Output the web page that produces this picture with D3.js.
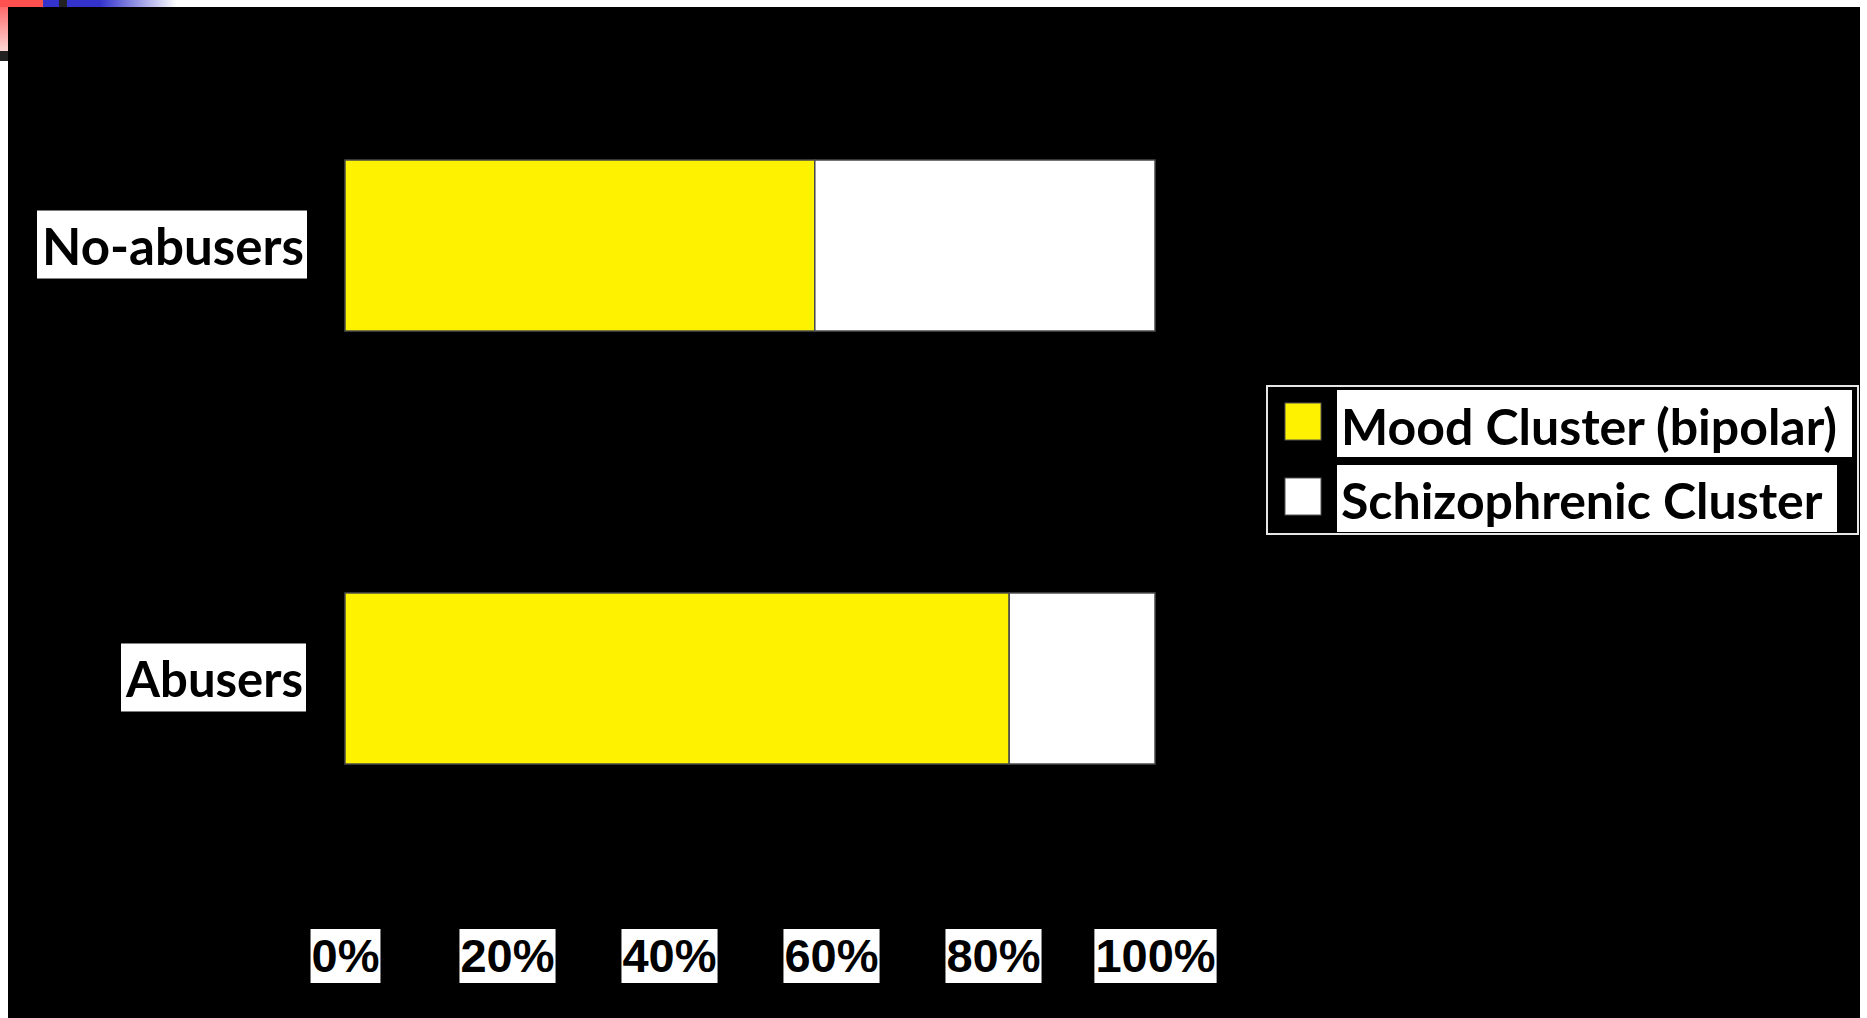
<!DOCTYPE html>
<html>
<head>
<meta charset="utf-8">
<script src="https://cdn.jsdelivr.net/npm/d3@7"></script>
<style>
  html, body { margin: 0; padding: 0; background: #fff; }
  svg { display: block; }
</style>
</head>
<body>
<svg id="chart" width="1867" height="1018"></svg>
<script>
// Categories and the share of each diagnostic cluster (percent)
const categories = ["No-abusers", "Abusers"];
const moodCluster = [58, 82];
const schizoCluster = [42, 18];
const seriesNames = ["Mood Cluster (bipolar)", "Schizophrenic Cluster"];
const seriesColors = ["#FFF200", "#FFFFFF"];
const tickValues = [0, 20, 40, 60, 80, 100];
const tickLabels = ["0%", "20%", "40%", "60%", "80%", "100%"];

const svg = d3.select("#chart");
const W = 1867, H = 1018;

// Slide frame: coloured corner strips and black stage
const defs = svg.append("defs");
const gTop = defs.append("linearGradient").attr("id", "topStrip").attr("x1", 0).attr("x2", 1).attr("y1", 0).attr("y2", 0);
gTop.append("stop").attr("offset", "0").attr("stop-color", "#3333cc");
gTop.append("stop").attr("offset", "0.3").attr("stop-color", "#3333cc");
gTop.append("stop").attr("offset", "1").attr("stop-color", "#ffffff");
const gLeft = defs.append("linearGradient").attr("id", "leftStrip").attr("x1", 0).attr("x2", 0).attr("y1", 0).attr("y2", 1);
gLeft.append("stop").attr("offset", "0").attr("stop-color", "#ff5a5a");
gLeft.append("stop").attr("offset", "1").attr("stop-color", "#ffd6d6");

svg.append("rect").attr("x", 0).attr("y", 0).attr("width", W).attr("height", H).attr("fill", "#fff");
svg.append("rect").attr("x", 0).attr("y", 0).attr("width", 43).attr("height", 51).attr("fill", "url(#leftStrip)");
svg.append("rect").attr("x", 0).attr("y", 0).attr("width", 43).attr("height", 7).attr("fill", "#ff5050");
svg.append("rect").attr("x", 43).attr("y", 0).attr("width", 16).attr("height", 7).attr("fill", "#3333cc");
svg.append("rect").attr("x", 59).attr("y", 0).attr("width", 8).attr("height", 7).attr("fill", "#222");
svg.append("rect").attr("x", 67).attr("y", 0).attr("width", 110).attr("height", 7).attr("fill", "url(#topStrip)");
svg.append("rect").attr("x", 0).attr("y", 51).attr("width", 8).attr("height", 10).attr("fill", "#222");
svg.append("rect").attr("x", 8).attr("y", 7).attr("width", 1852).attr("height", H - 7).attr("fill", "#000");

// Scales
const x = d3.scaleLinear().domain([0, 100]).range([345, 1155]);
const y = d3.scaleBand().domain(categories).range([160, 764]).paddingInner(0.605).paddingOuter(0);

// Stacked bars
const rows = categories.map((c, i) => ({ category: c, mood: moodCluster[i], schizo: schizoCluster[i] }));
const stack = d3.stack().keys(["mood", "schizo"]);
const layers = stack(rows);

svg.append("g").selectAll("g")
  .data(layers)
  .join("g")
  .attr("fill", (d, i) => seriesColors[i])
  .selectAll("rect")
  .data(d => d)
  .join("rect")
  .attr("x", d => x(d[0]))
  .attr("y", d => y(d.data.category))
  .attr("width", d => x(d[1]) - x(d[0]))
  .attr("height", y.bandwidth())
  .attr("stroke", "#4a4a4a")
  .attr("stroke-width", 1.5);

// Labels drawn on white boxes; font size is chosen so the text fits its box
const labelFont = "Lato, 'DejaVu Sans', sans-serif";
function fittedText(g, txt, opts) {
  const t = g.append("text")
    .text(txt)
    .attr("x", opts.x)
    .attr("y", opts.baseline)
    .attr("text-anchor", opts.anchor || "start")
    .attr("font-family", opts.family)
    .attr("font-weight", "bold")
    .attr("font-size", opts.size)
    .attr("fill", "#000");
  const w = t.node().getComputedTextLength();
  if (w > opts.maxWidth) t.attr("font-size", opts.size * opts.maxWidth / w);
  return t;
}

// Category axis labels
const catBoxes = [
  { x0: 37, x1: 307 },
  { x0: 121, x1: 306 }
];
const catG = svg.append("g");
categories.forEach((c, i) => {
  const cy = y(c) + y.bandwidth() / 2;
  const b = catBoxes[i];
  catG.append("rect").attr("x", b.x0).attr("y", cy - 35).attr("width", b.x1 - b.x0).attr("height", 68).attr("fill", "#fff");
  fittedText(catG, c, { x: b.x1 - 3, baseline: cy + 19, anchor: "end", family: labelFont, size: 52, maxWidth: b.x1 - b.x0 - 8 });
});

// Value axis
const axis = d3.axisBottom(x).tickValues(tickValues).tickSize(0).tickPadding(0)
  .tickFormat((d, i) => tickLabels[i]);
const axG = svg.append("g").attr("transform", "translate(0,939)").call(axis);
axG.select(".domain").remove();
axG.selectAll("text")
  .attr("font-family", "'Liberation Sans', Arial, sans-serif")
  .attr("font-weight", "bold")
  .attr("font-size", 47)
  .attr("fill", "#000")
  .attr("dy", "0.71em")
  .attr("y", 0);
axG.selectAll(".tick").each(function () {
  const tk = d3.select(this);
  const bb = tk.select("text").node().getBBox();
  tk.insert("rect", "text")
    .attr("x", bb.x - 1)
    .attr("y", -10)
    .attr("width", bb.width + 2)
    .attr("height", 54)
    .attr("fill", "#fff");
});

// Legend
const lg = svg.append("g");
lg.append("rect").attr("x", 1267).attr("y", 386).attr("width", 591).attr("height", 148)
  .attr("fill", "#000").attr("stroke", "#e6e6e6").attr("stroke-width", 2);
const legendRows = [
  { sw: 403, box0: 390, box1: 457, boxR: 1852, baseline: 445 },
  { sw: 478, box0: 465, box1: 532, boxR: 1837, baseline: 519 }
];
seriesNames.forEach((name, i) => {
  const r = legendRows[i];
  lg.append("rect").attr("x", 1285).attr("y", r.sw).attr("width", 36).attr("height", 37)
    .attr("fill", seriesColors[i]).attr("stroke", "#555").attr("stroke-width", 1);
  lg.append("rect").attr("x", 1337).attr("y", r.box0).attr("width", r.boxR - 1337).attr("height", r.box1 - r.box0).attr("fill", "#fff");
  fittedText(lg, name, { x: 1341, baseline: r.baseline, family: labelFont, size: 50, maxWidth: r.boxR - 1337 - 9 });
});
</script>
</body>
</html>
